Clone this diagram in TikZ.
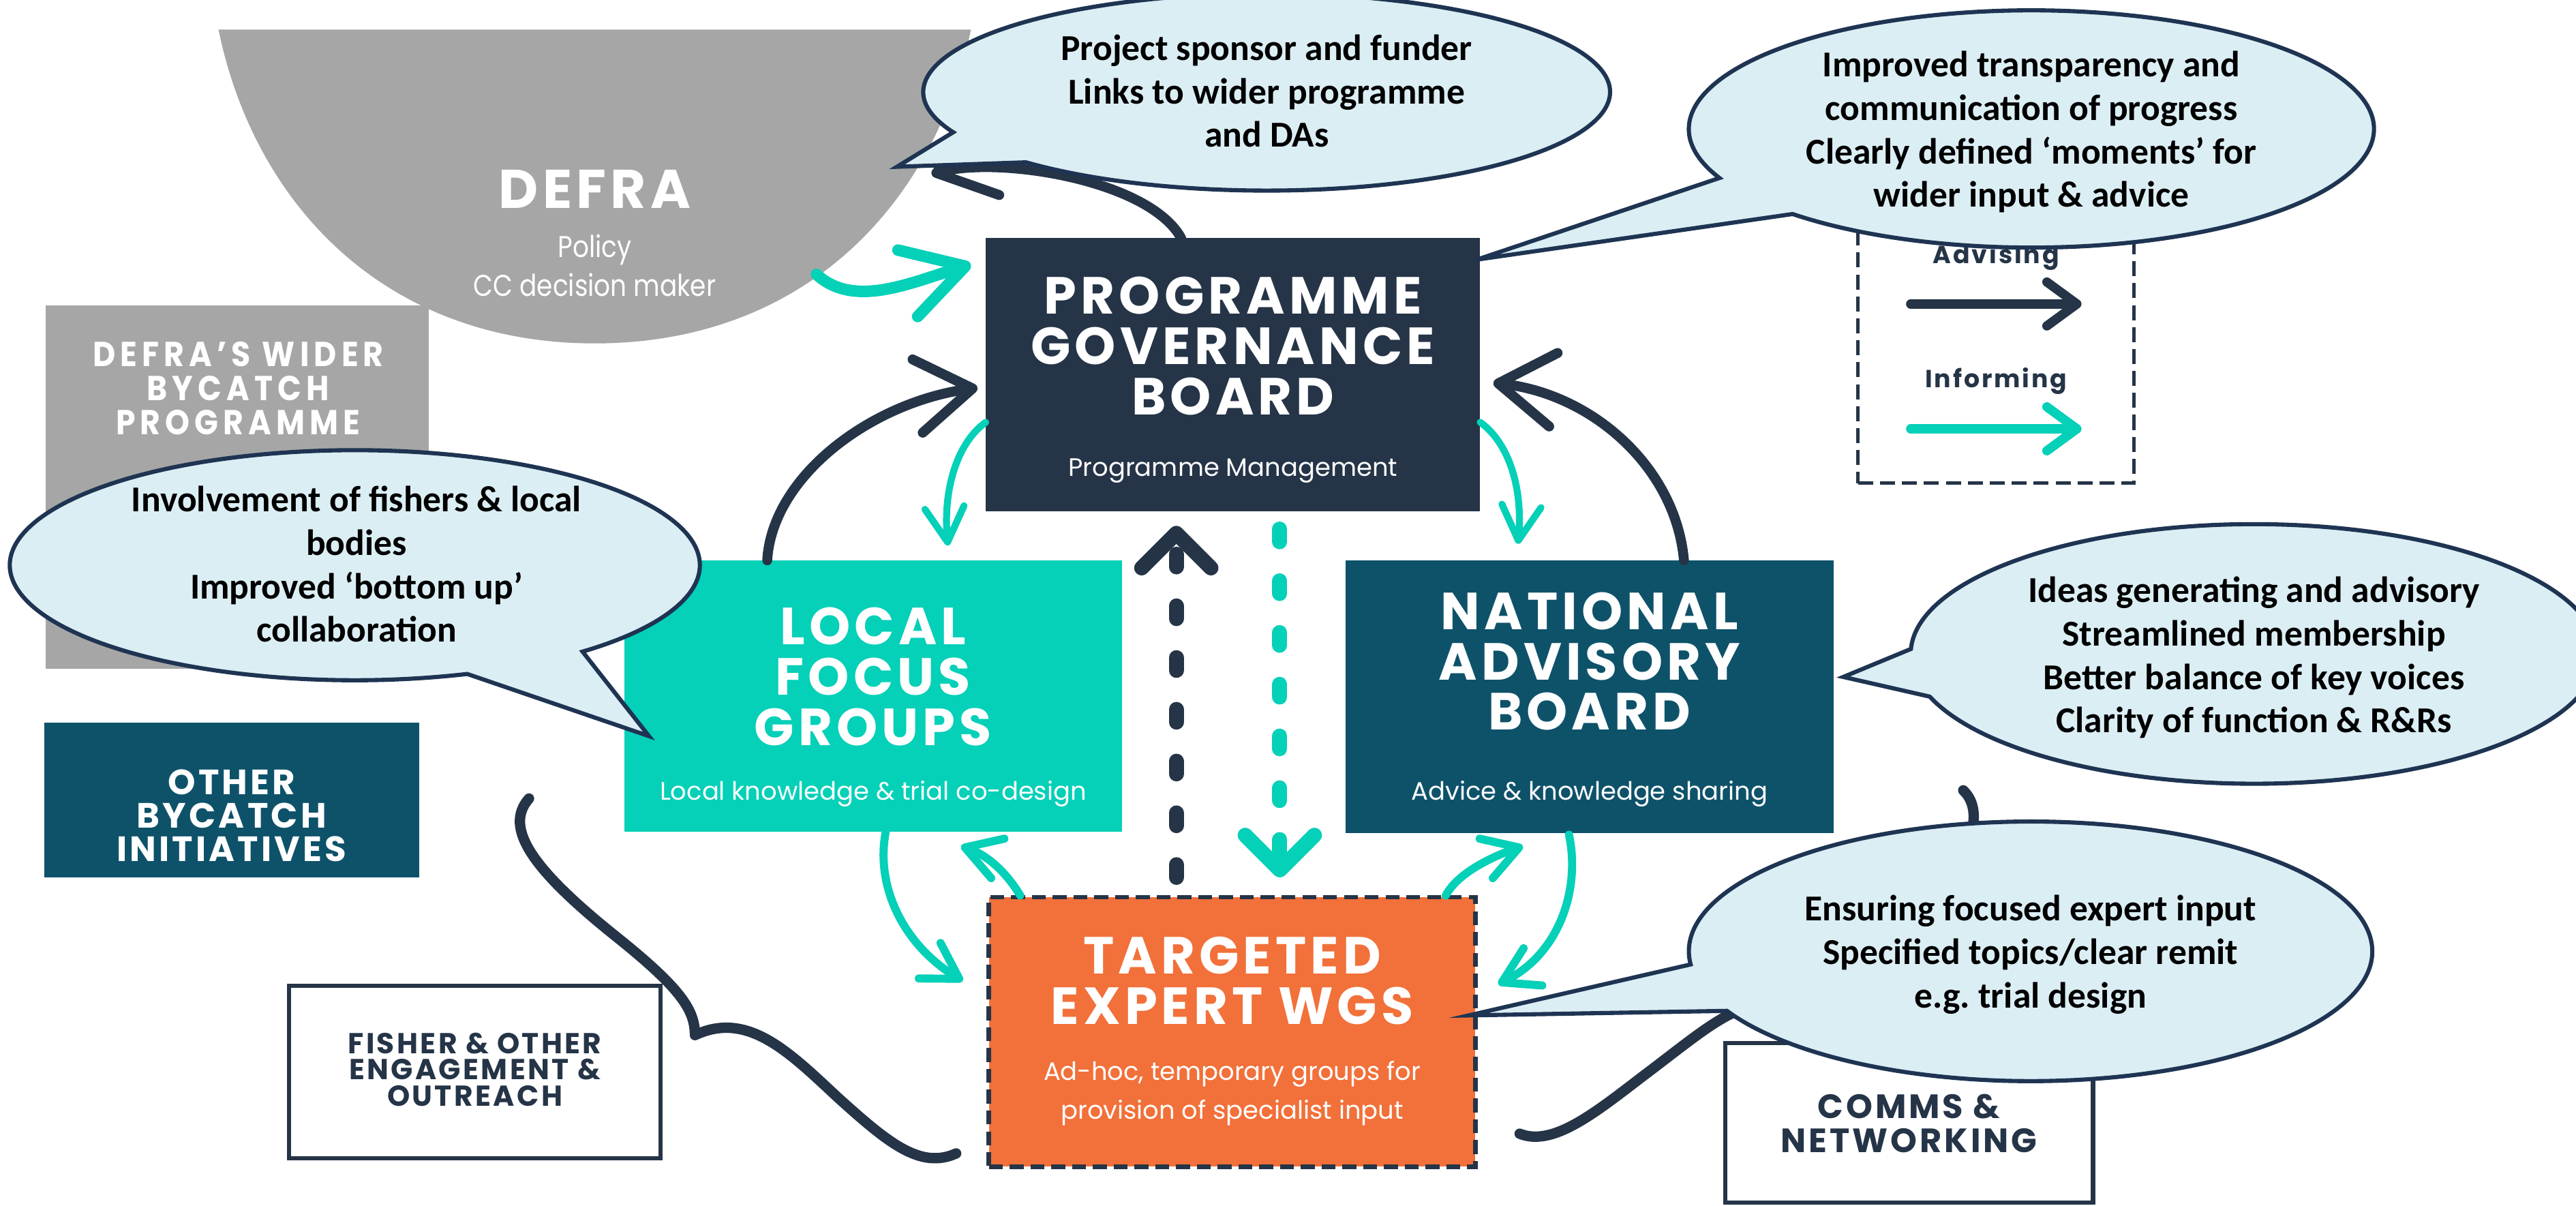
\documentclass[tikz,border=0pt]{standalone}
\usepackage{fontspec}
\setmainfont{Carlito}
\newfontfamily\popT{Poppins}[LetterSpace=8]
\newfontfamily\popS{Poppins}
\newfontfamily\popN{Poppins}[FakeStretch=0.85]
\newfontfamily\popW{Poppins}[FakeStretch=0.9,LetterSpace=14]
\usetikzlibrary{arrows.meta,calc,fit}
\definecolor{navy}{RGB}{37,52,71}
\definecolor{tealc}{RGB}{5,208,184}
\definecolor{dteal}{RGB}{14,82,106}
\definecolor{orng}{RGB}{242,112,57}
\definecolor{greyc}{RGB}{166,166,166}
\definecolor{bfill}{RGB}{219,238,244}
\definecolor{bline}{RGB}{30,52,82}
\tikzset{
  panel/.style={inner sep=0pt, outer sep=0pt},
  ttl/.style={text=white, align=center, inner sep=0pt, font=\popT\bfseries\fontsize{22.6}{21.8}\selectfont},
  sub/.style={text=white, align=center, inner sep=0pt, font=\popS\fontsize{10.9}{16.9}\selectfont},
  smallttl/.style={align=center, inner sep=0pt},
  bub/.style={fill=bfill, draw=bline, line width=1.8pt, line join=miter},
  bubtext/.style={align=center, inner sep=0pt, text=black, font=\bfseries\fontsize{15.8}{18.8}\selectfont},
  adv/.style={draw=navy, line width=4.3pt, line cap=round, -{Straight Barb[length=24pt,width=32pt,round]}},
  inf/.style={draw=tealc, line width=5pt, line cap=round, -{Straight Barb[length=26pt,width=30pt,round]}},
  infthin/.style={draw=tealc, line width=3pt, line cap=round, -{Straight Barb[length=15pt,width=17pt,round]}},
  infmid/.style={draw=tealc, line width=3.5pt, line cap=round, -{Straight Barb[length=15pt,width=18pt,round]}},
  advdash/.style={draw=navy, line width=6.5pt, line cap=round, dash pattern=on 5.5pt off 16.9pt, -{Straight Barb[length=15pt,width=30pt,round]}},
  infdash/.style={draw=tealc, line width=6.5pt, line cap=round, dash pattern=on 5.5pt off 16.9pt, -{Straight Barb[length=15pt,width=30pt,round]}},
  brush/.style={draw=navy, line width=4.5pt, line cap=round, line join=round},
  legadv/.style={draw=navy, line width=4pt, line cap=round, -{Straight Barb[length=13pt,width=19pt,round]}},
  leginf/.style={draw=tealc, line width=4pt, line cap=round, -{Straight Barb[length=13pt,width=19pt,round]}},
}
\begin{document}
\begin{tikzpicture}[x=0.025cm,y=-0.025cm]
\useasboundingbox (0,0) rectangle (1568,733.6);
\fill[white] (0,0) rectangle (1568,733.6);

% DEFRA
\fill[greyc] (133,18) .. controls (155,125) and (235,209) .. (362,209) .. controls (489,209) and (569,125) .. (591,18) -- cycle;
\node[text=white, inner sep=0pt, font=\popT\bfseries\fontsize{23.6}{24}\selectfont] (defraT) at (362,115.3) {DEFRA};
\node[text=white, align=center, inner sep=0pt, font=\popN\fontsize{13}{16.9}\selectfont] (defraS) at (362,161.6) {Policy\\CC decision maker};
\coordinate (defraR) at (497,167);
\coordinate (defraTip) at (567,106);

% side boxes
\node[panel, fill=greyc, fit={(28,186) (261,407)}] (wider) {};
\node[smallttl, text=white, font=\popW\bfseries\fontsize{15}{14.8}\selectfont] (widerT) at (145,236.2) {DEFRA’S WIDER\\BYCATCH\\PROGRAMME};

\node[panel, fill=dteal, fit={(27,440) (255,534)}] (other) {};
\node[smallttl, text=white, font=\popT\bfseries\fontsize{15.2}{14.5}\selectfont] (otherT) at (141,496.3) {OTHER\\BYCATCH\\INITIATIVES};

\node[panel, draw=navy, line width=1.8pt, fill=white, fit={(176,600) (402,705)}] (fisher) {};
\node[smallttl, text=navy, font=\popT\bfseries\fontsize{12.5}{11.3}\selectfont] (fisherT) at (289,651) {FISHER \& OTHER\\ENGAGEMENT \&\\OUTREACH};

\node[panel, draw=navy, line width=1.8pt, fill=white, fit={(1050,635) (1274,732)}] (comms) {};
\node[smallttl, text=navy, font=\popT\bfseries\fontsize{14.6}{14.8}\selectfont] (commsT) at (1162,683.6) {COMMS \&\\NETWORKING};

% legend
\node[panel, draw=navy, line width=1.5pt, dash pattern=on 6.5pt off 3pt, fit={(1131,118) (1299,294)}] (legend) {};
\node[text=navy, inner sep=0pt, anchor=base, font=\popT\bfseries\fontsize{10.7}{12}\selectfont] (advT) at (1215,160.5) {Advising};
\coordinate (advA) at (1163,185);
\coordinate (advB) at (1267,185);
\draw[legadv] (advA) -- (advB);
\node[text=navy, inner sep=0pt, anchor=base, font=\popT\bfseries\fontsize{10.7}{12}\selectfont] (infT) at (1215,235.8) {Informing};
\coordinate (infA) at (1163,261);
\coordinate (infB) at (1267,261);
\draw[leginf] (infA) -- (infB);

% main boxes
\node[panel, fill=navy, fit={(600,145) (901,311)}] (pgb) {};
\node[ttl] (pgbT) at (750.5,210.6) {PROGRAMME\\GOVERNANCE\\BOARD};
\node[sub, anchor=base] (pgbS) at (750.5,290) {Programme Management};

\node[panel, fill=tealc, fit={(380,341) (683,506)}] (lfg) {};
\node[ttl] (lfgT) at (531.5,411.7) {LOCAL\\FOCUS\\GROUPS};
\node[sub, anchor=base] (lfgS) at (531.5,487) {Local knowledge \& trial co-design};

\node[panel, fill=dteal, fit={(819,341) (1116,507)}] (nab) {};
\node[ttl] (nabT) at (967.5,402.5) {NATIONAL\\ADVISORY\\BOARD};
\node[sub, anchor=base] (nabS) at (967.5,487) {Advice \& knowledge sharing};

\node[panel, fill=orng, draw=navy, line width=2pt, dash pattern=on 6pt off 3pt, fit={(602,546) (898,710)}] (tewg) {};
\node[ttl] (tewgT) at (750,596.9) {TARGETED\\EXPERT WGS};
\node[sub] (tewgS) at (750,665.5) {Ad-hoc, temporary groups for\\provision of specialist input};

% arrows
\draw[inf] (defraR) .. controls +(23,21) and +(-37,11) .. ($(pgb.north west)+(-9,16)$);
\draw[adv] ($(pgb.north west)+(119,0)$) .. controls +(-19,-35) and +(43,-11) .. (defraTip);
\draw[adv] ($(lfg.north west)+(87,0)$) .. controls +(3,-51) and +(-65,9) .. ($(pgb.north west)+(-5,91)$);
\draw[adv] ($(nab.north west)+(206,0)$) .. controls +(-5,-56) and +(61,7) .. ($(pgb.north east)+(8,88)$);
\draw[infthin] ($(pgb.north west)+(0,112)$) .. controls +(-18,13) and +(-3,-33) .. ($(lfg.north west)+(197,-9)$);
\draw[infthin] ($(pgb.north east)+(0,112)$) .. controls +(18,13) and +(3,-33) .. ($(nab.north west)+(105,-10)$);
\draw[advdash] ($(tewg.north west)+(114,-12)$) -- ($(pgb.south west)+(116,9)$);
\draw[infdash] ($(pgb.south west)+(179,11)$) -- ($(tewg.north west)+(177,-12)$);
\draw[infmid] ($(lfg.south west)+(159,1)$) .. controls +(-6,33) and +(-36,-22) .. ($(tewg.north west)+(-16,51)$);
\draw[infmid] ($(tewg.north west)+(19,-1)$) .. controls +(-9,-15) and +(15,5) .. ($(lfg.south west)+(205,9)$);
\draw[infmid] ($(nab.south west)+(136,1)$) .. controls +(7,32) and +(38,-19) .. ($(tewg.north east)+(14,53)$);
\draw[infmid] ($(tewg.north east)+(-18,-1)$) .. controls +(8,-15) and +(-15,5) .. ($(nab.south west)+(108,8)$);

% braces
\draw[brush] (322,486) .. controls (306,504) and (325,530) .. (375,570) .. controls (415,602) and (423,615) .. (423,630) .. controls (455,615) and (480,640) .. (510,668) .. controls (540,695) and (560,712) .. (582,702);
\draw[brush] (1195,481) .. controls (1210,495) and (1200,530) .. (1150,565) .. controls (1105,597) and (1092,605) .. (1090,612) .. controls (1060,605) and (1040,625) .. (1000,655) .. controls (970,678) and (945,698) .. (925,690);

% bubbles
\coordinate (cA) at (771,56);
\coordinate (tipA) at (546,101.5);
\draw[bub] (tipA) -- ($(cA)+(155.9:209 and 60)$) arc[start angle=155.9, end angle=494.5, x radius=209, y radius=60] -- cycle;
\node[bubtext] (tA) at (771,55.4) {Project sponsor and funder\\Links to wider programme\\and DAs};

\coordinate (cB) at (1236.5,78.5);
\draw[bub] ($(pgb.north east)+(-2,13)$) -- ($(cB)+(155.6:208.5 and 72.2)$) arc[start angle=155.6, end angle=494.2, x radius=208.5, y radius=72.2] -- cycle;
\node[bubtext] (tB) at (1236.5,80.4) {Improved transparency and\\communication of progress\\Clearly defined ‘moments’ for\\wider input \& advice};

\coordinate (cC) at (216,344);
\draw[bub] ($(lfg.north west)+(15,107)$) -- ($(cC)+(71.0:210 and 70)$) arc[start angle=71.0, end angle=408.7, x radius=210, y radius=70] -- cycle;
\node[bubtext] (tC) at (217,343.4) {Involvement of fishers \& local\\bodies\\Improved ‘bottom up’\\collaboration};

\coordinate (cD) at (1372,398);
\draw[bub] ($(nab.north east)+(6,71)$) -- ($(cD)+(182.2:209 and 79)$) arc[start angle=182.2, end angle=520.8, x radius=209, y radius=79] -- cycle;
\node[bubtext] (tD) at (1372,400.3) {Ideas generating and advisory\\Streamlined membership\\Better balance of key voices\\Clarity of function \& R\&Rs};

\coordinate (cE) at (1236,579);
\draw[bub] ($(tewg.north east)+(-4,72)$) -- ($(cE)+(174.2:208 and 79)$) arc[start angle=174.2, end angle=512.7, x radius=208, y radius=79] -- cycle;
\node[bubtext] (tE) at (1236,581) {Ensuring focused expert input\\Specified topics/clear remit\\e.g.\ trial design};
\end{tikzpicture}
\end{document}
